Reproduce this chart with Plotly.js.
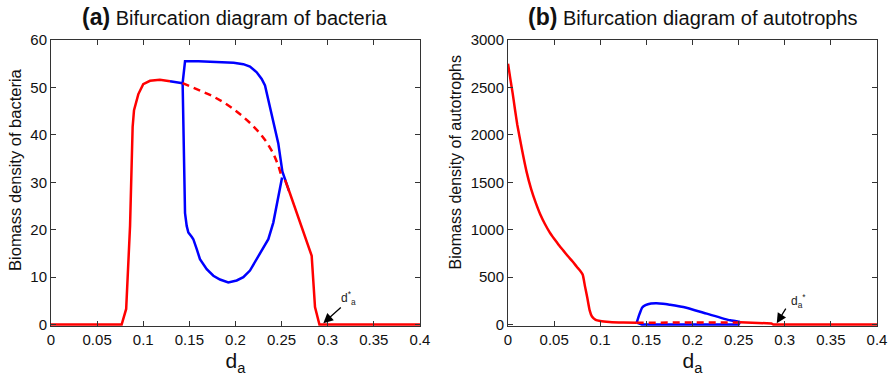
<!DOCTYPE html>
<html>
<head>
<meta charset="utf-8">
<script src="https://cdn.plot.ly/plotly-3.0.1.min.js"></script>
<style>html,body{margin:0;padding:0;background:#fff;}#chart{width:893px;height:379px;}</style>
</head>
<body>
<div id="chart"></div>
<script>
// ---------- Tick labels ----------
var xTickVals = [0, 0.05, 0.1, 0.15, 0.2, 0.25, 0.3, 0.35, 0.4];
var xTickText = ['0', '0.05', '0.1', '0.15', '0.2', '0.25', '0.3', '0.35', '0.4'];
var aYTickVals = [0, 10, 20, 30, 40, 50, 60];
var bYTickVals = [0, 500, 1000, 1500, 2000, 2500, 3000];

// ---------- Panel (a): bacteria ----------
var aRedX1 = [0, 0.0766, 0.0815, 0.0857, 0.0885, 0.09, 0.0947, 0.1, 0.1073, 0.118, 0.129];
var aRedY1 = [0, 0, 3.3, 20.8, 41.7, 45.2, 48.6, 50.7, 51.4, 51.6, 51.3];
var aBlueLinkX = [0.129, 0.1427];
var aBlueLinkY = [51.3, 50.9];
var aBlueUpX = [0.1427, 0.1453, 0.16, 0.181, 0.198, 0.2085, 0.2157, 0.223, 0.2284, 0.232, 0.2392, 0.2464, 0.2508, 0.2537, 0.258];
var aBlueUpY = [50.9, 55.5, 55.5, 55.4, 55.2, 54.9, 54.4, 53.2, 51.8, 50.4, 44.5, 38.2, 32.3, 30.5, 28.2];
var aBlueLoX = [0.1427, 0.1453, 0.1471, 0.1489, 0.1525, 0.1543, 0.158, 0.1615, 0.1688, 0.176, 0.1832, 0.1922, 0.2013, 0.2085, 0.2157, 0.2247, 0.2356, 0.241, 0.2455, 0.2505];
var aBlueLoY = [50.9, 23.5, 20.8, 19.4, 18.5, 18.0, 15.9, 13.8, 11.7, 10.3, 9.5, 8.9, 9.3, 10.0, 11.4, 14.5, 18.0, 21.5, 26.0, 31.0];
var aRedDashX = [0.1427, 0.1515, 0.1615, 0.174, 0.1868, 0.1975, 0.2085, 0.2175, 0.2266, 0.234, 0.241, 0.2465, 0.250];
var aRedDashY = [50.9, 50.2, 49.3, 48.3, 46.9, 45.5, 43.8, 42.2, 40.3, 38.4, 36.1, 33.5, 31.2];
var aRedX2 = [0.2537, 0.259, 0.2826, 0.2862, 0.291, 0.4];
var aRedY2 = [30.5, 27.7, 14.5, 3.7, 0, 0];

// ---------- Panel (b): autotrophs ----------
var bRedX1 = [0, 0.0025, 0.005, 0.0075, 0.01, 0.015, 0.02, 0.025, 0.03, 0.035, 0.04, 0.045, 0.05, 0.055, 0.06, 0.065, 0.07, 0.0745, 0.078, 0.081, 0.0835, 0.086, 0.0885, 0.091, 0.095, 0.1, 0.11, 0.125, 0.1395];
var bRedY1 = [2750, 2590, 2440, 2270, 2110, 1850, 1615, 1430, 1285, 1160, 1060, 975, 905, 840, 780, 720, 665, 610, 570, 525, 400, 280, 150, 85, 50, 38, 28, 22, 20];
var bBlueUpX = [0.1395, 0.1425, 0.1455, 0.149, 0.155, 0.161, 0.168, 0.175, 0.19, 0.2154, 0.2407, 0.2515];
var bBlueUpY = [20, 110, 180, 205, 222, 225, 220, 210, 185, 115, 45, 28];
var bBlueLoX = [0.1395, 0.145, 0.25, 0.2515];
var bBlueLoY = [20, 2, 2, 28];
var bRedDashX = [0.1395, 0.2515];
var bRedDashY = [20, 22];
var bRedX2 = [0.2515, 0.265, 0.28, 0.2855, 0.2876, 0.4];
var bRedY2 = [25, 22, 18, 12, 0, 0];

var RED = '#ff0000', BLUE = '#0000ff', LW = 2.5;
function tr(x, y, color, xa, ya, dash, smooth) {
  var line = {color: color, width: LW, dash: dash || 'solid'};
  if (smooth) { line.shape = 'spline'; line.smoothing = smooth; }
  return {x: x, y: y, type: 'scatter', mode: 'lines', xaxis: xa, yaxis: ya,
    line: line, hoverinfo: 'skip', showlegend: false};
}

var data = [
  tr(aBlueLinkX, aBlueLinkY, BLUE, 'x', 'y'),
  tr(aBlueUpX, aBlueUpY, BLUE, 'x', 'y'),
  tr(aBlueLoX, aBlueLoY, BLUE, 'x', 'y'),
  tr(aRedDashX, aRedDashY, RED, 'x', 'y', '7px,5px'),
  tr(aRedX1, aRedY1, RED, 'x', 'y'),
  tr(aRedX2, aRedY2, RED, 'x', 'y'),
  tr(bBlueUpX, bBlueUpY, BLUE, 'x2', 'y2', null, 0.5),
  tr(bBlueLoX, bBlueLoY, BLUE, 'x2', 'y2'),
  tr(bRedDashX, bRedDashY, RED, 'x2', 'y2', '7px,5px'),
  tr(bRedX1, bRedY1, RED, 'x2', 'y2', null, 0.4),
  tr(bRedX2, bRedY2, RED, 'x2', 'y2')
];

var FONT = 'Liberation Sans, Arial, Helvetica, sans-serif';
function xax(domain, anchor) {
  return {domain: domain, anchor: anchor, range: [0, 0.4], tickvals: xTickVals, ticktext: xTickText,
    ticks: 'inside', ticklen: 5, tickcolor: '#333', mirror: 'ticks', showline: true, linecolor: '#333', linewidth: 1,
    showgrid: false, zeroline: false, tickfont: {family: FONT, size: 15, color: '#111'},
    title: {text: 'd<sub>a</sub>', font: {family: FONT, size: 21, color: '#111'}, standoff: 6}, automargin: false};
}
function yax(range, tickvals, anchor) {
  return {range: range, anchor: anchor, tickvals: tickvals, ticks: 'inside', ticklen: 5, tickcolor: '#333',
    mirror: 'ticks', showline: true, linecolor: '#333', linewidth: 1, showgrid: false, zeroline: false,
    tickfont: {family: FONT, size: 15, color: '#111'}, automargin: false};
}

var layout = {
  width: 893, height: 379,
  margin: {l: 51, r: 16, t: 40, b: 53},
  paper_bgcolor: '#fff', plot_bgcolor: '#fff',
  showlegend: false,
  xaxis: xax([0, 0.4467], 'y'),
  yaxis: yax([-0.3, 60], aYTickVals, 'x'),
  xaxis2: xax([0.5533, 1], 'y2'),
  yaxis2: yax([-15, 3000], bYTickVals, 'x2'),
  annotations: [
    {xref: 'paper', yref: 'paper', x: 0.2228, y: 1.08, xanchor: 'center', yanchor: 'middle', showarrow: false,
     text: '<b><span style="font-size:23px">(a)</span></b> Bifurcation diagram of bacteria',
     font: {family: FONT, size: 20, color: '#111'}},
    {xref: 'paper', yref: 'paper', x: 0.7778, y: 1.08, xanchor: 'center', yanchor: 'middle', showarrow: false,
     text: '<b><span style="font-size:23px">(b)</span></b> Bifurcation diagram of autotrophs',
     font: {family: FONT, size: 20, color: '#111'}},
    {xref: 'paper', yref: 'paper', x: -0.0436, y: 0.549, xanchor: 'center', yanchor: 'middle', showarrow: false,
     textangle: -90, text: 'Biomass density of bacteria', font: {family: FONT, size: 16.5, color: '#111'}},
    {xref: 'paper', yref: 'paper', x: 0.4891, y: 0.572, xanchor: 'center', yanchor: 'middle', showarrow: false,
     textangle: -90, text: 'Biomass density of autotrophs', font: {family: FONT, size: 16, color: '#111'}},
    {xref: 'x', yref: 'y', x: 0.2952, y: 0.3, ax: 19, ay: -17, text: '', showarrow: true,
     arrowhead: 2, arrowsize: 1.5, arrowwidth: 1.3, arrowcolor: '#000', standoff: 0},
    {xref: 'x', yref: 'y', x: 0.322, y: 5.6, text: 'd<sup>*</sup><sub>a</sub>', showarrow: false,
     font: {family: FONT, size: 12, color: '#222'}},
    {xref: 'x2', yref: 'y2', x: 0.2913, y: 15, ax: 10, ay: -16, text: '', showarrow: true,
     arrowhead: 2, arrowsize: 1.5, arrowwidth: 1.3, arrowcolor: '#000', standoff: 0},
    {xref: 'x2', yref: 'y2', x: 0.3144, y: 250, text: 'd<sub>a</sub><sup>*</sup>', showarrow: false,
     font: {family: FONT, size: 12, color: '#222'}}
  ]
};

Plotly.newPlot('chart', data, layout, {displayModeBar: false, staticPlot: true});
</script>
</body>
</html>
